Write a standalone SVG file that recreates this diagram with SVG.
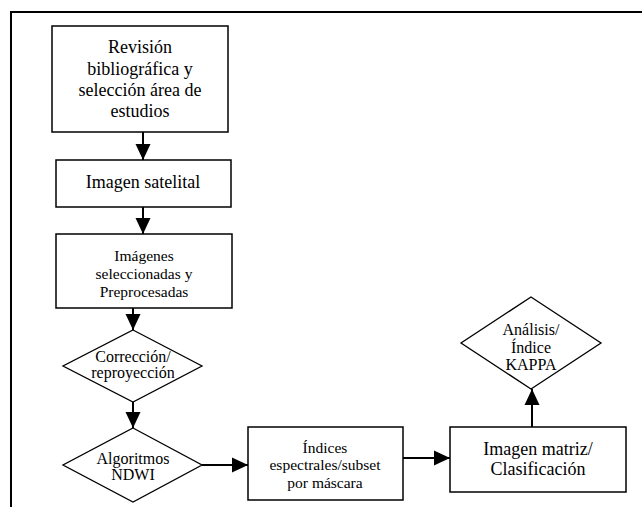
<svg xmlns="http://www.w3.org/2000/svg" width="642" height="507" viewBox="0 0 642 507">
<defs>
<style>
.box{fill:#fff;stroke:#000;stroke-width:1.5}
.dia{fill:#fff;stroke:#000;stroke-width:1.3}
text{font-family:'Liberation Serif','Times New Roman',serif;fill:#000;text-anchor:middle}
.c{stroke:#000;stroke-width:2;fill:none;marker-end:url(#ah)}
.frame{stroke:#000;stroke-width:2;fill:none}
</style>
<marker id="ah" markerUnits="userSpaceOnUse" markerWidth="16" markerHeight="16" refX="16" refY="8" orient="auto">
<path d="M0,0.5 L16,8 L0,15.5 z" fill="#000"/>
</marker>
</defs>
<rect width="642" height="507" fill="#fff"/>
<path class="frame" d="M11,507 L11,12 L642,12"/>

<g id="n1">
<rect class="box" x="52" y="26" width="176" height="106"/>
<text font-size="18"><tspan x="140" y="53">Revisión</tspan><tspan x="140" y="75">bibliográfica y</tspan><tspan x="140" y="96">selección área de</tspan><tspan x="140" y="117">estudios</tspan></text>
</g>
<g id="n2">
<rect class="box" x="56" y="160" width="175" height="47"/>
<text font-size="18" x="143" y="188">Imagen satelital</text>
</g>
<g id="n3">
<rect class="box" x="56" y="234" width="176" height="74"/>
<text font-size="15.5"><tspan x="144" y="261">Imágenes</tspan><tspan x="144" y="279">seleccionadas y</tspan><tspan x="144" y="297">Preprocesadas</tspan></text>
</g>
<g id="n4">
<polygon class="dia" points="133,330 202,366 133,402 63,366"/>
<text font-size="16"><tspan x="133" y="362">Corrección/</tspan><tspan x="133" y="378">reproyección</tspan></text>
</g>
<g id="n5">
<polygon class="dia" points="133,428 202,465 133,502 63,465"/>
<text font-size="16"><tspan x="133" y="464">Algoritmos</tspan><tspan x="133" y="480">NDWI</tspan></text>
</g>
<g id="n6">
<rect class="box" x="248" y="427" width="155" height="73"/>
<text font-size="15.5"><tspan x="325" y="453">Índices</tspan><tspan x="325" y="470">espectrales/subset</tspan><tspan x="325" y="488">por máscara</tspan></text>
</g>
<g id="n7">
<rect class="box" x="450" y="427" width="176" height="65"/>
<text font-size="18"><tspan x="538" y="455">Imagen matriz/</tspan><tspan x="538" y="475">Clasificación</tspan></text>
</g>
<g id="n8">
<polygon class="dia" points="531,297 601,343 531,389 461,343"/>
<text font-size="16"><tspan x="531" y="335">Análisis/</tspan><tspan x="531" y="353">Índice</tspan><tspan x="531" y="370">KAPPA</tspan></text>
</g>

<g id="connectors">
<line class="c" x1="143" y1="132" x2="143" y2="160"/>
<line class="c" x1="143" y1="207" x2="143" y2="234"/>
<line class="c" x1="133" y1="308" x2="133" y2="330"/>
<line class="c" x1="133" y1="402" x2="133" y2="428"/>
<line class="c" x1="202" y1="465" x2="248" y2="465"/>
<line class="c" x1="403" y1="458" x2="450" y2="458"/>
<line class="c" x1="532" y1="427" x2="532" y2="389"/>
</g>
</svg>
